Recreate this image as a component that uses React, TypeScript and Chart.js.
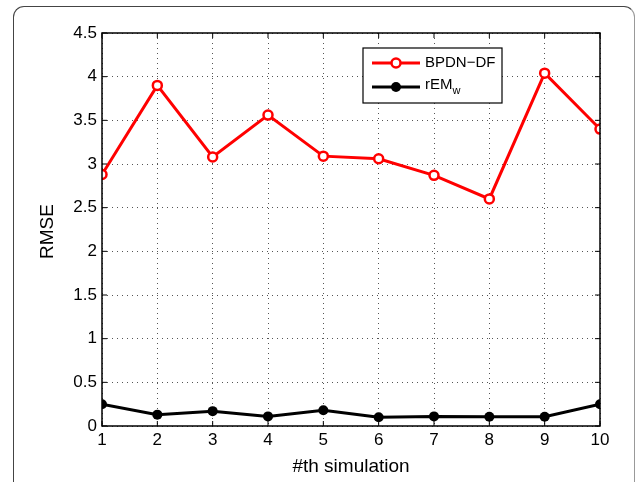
import React, { useEffect, useRef } from "react";
import { Chart, registerables } from "chart.js";

Chart.register(...registerables);

const simulations = [1, 2, 3, 4, 5, 6, 7, 8, 9, 10];
const bpdnDF = [2.88, 3.9, 3.08, 3.56, 3.09, 3.06, 2.87, 2.6, 4.04, 3.4];
const remW = [0.25, 0.13, 0.17, 0.11, 0.18, 0.1, 0.11, 0.105, 0.105, 0.25];
const yTicks = [0, 0.5, 1, 1.5, 2, 2.5, 3, 3.5, 4, 4.5];

const FONT = "'Liberation Sans', Arial, Helvetica, sans-serif";

const decorPlugin = {
  id: "decor",
  afterDraw(chart: any) {
    const ctx = chart.ctx as CanvasRenderingContext2D;
    const { left, right, top, bottom } = chart.chartArea;
    const xs = chart.scales.x;
    const ys = chart.scales.y;
    ctx.save();
    // box
    ctx.strokeStyle = "#000";
    ctx.lineWidth = 1.5;
    ctx.setLineDash([]);
    ctx.strokeRect(left, top, right - left, bottom - top);
    // inward ticks
    ctx.lineWidth = 1;
    const tl = 5;
    ctx.beginPath();
    simulations.forEach((v) => {
      const px = xs.getPixelForValue(v);
      ctx.moveTo(px, bottom);
      ctx.lineTo(px, bottom - tl);
      ctx.moveTo(px, top);
      ctx.lineTo(px, top + tl);
    });
    yTicks.forEach((v) => {
      const py = ys.getPixelForValue(v);
      ctx.moveTo(left, py);
      ctx.lineTo(left + tl, py);
      ctx.moveTo(right, py);
      ctx.lineTo(right - tl, py);
    });
    ctx.stroke();

    // axis titles
    ctx.fillStyle = "#000";
    ctx.font = `19px ${FONT}`;
    ctx.textAlign = "center";
    ctx.textBaseline = "middle";
    ctx.fillText("#th simulation", (left + right) / 2, 467);
    ctx.save();
    ctx.translate(48, (top + bottom) / 2 + 2);
    ctx.rotate(-Math.PI / 2);
    ctx.fillText("RMSE", 0, 0);
    ctx.restore();

    // legend
    const bx = 363, by = 48, bw = 139, bh = 55;
    ctx.fillStyle = "#fff";
    ctx.fillRect(bx, by, bw, bh);
    ctx.strokeStyle = "#000";
    ctx.lineWidth = 1.2;
    ctx.strokeRect(bx, by, bw, bh);
    const rows = [
      { y: 63, color: "#ff0000", open: true },
      { y: 87, color: "#000000", open: false },
    ];
    rows.forEach((r) => {
      ctx.strokeStyle = r.color;
      ctx.lineWidth = 3;
      ctx.beginPath();
      ctx.moveTo(372, r.y);
      ctx.lineTo(420, r.y);
      ctx.stroke();
      ctx.beginPath();
      ctx.arc(396, r.y, r.open ? 4.5 : 5, 0, Math.PI * 2);
      if (r.open) {
        ctx.fillStyle = "#fff";
        ctx.fill();
        ctx.lineWidth = 2.5;
        ctx.stroke();
      } else {
        ctx.fillStyle = r.color;
        ctx.fill();
      }
    });
    ctx.fillStyle = "#000";
    ctx.textAlign = "left";
    ctx.textBaseline = "middle";
    ctx.font = `15px ${FONT}`;
    ctx.fillText("BPDN\u2212DF", 425, 63);
    ctx.fillText("rEM", 425, 85);
    const w = ctx.measureText("rEM").width;
    ctx.font = `11px ${FONT}`;
    ctx.fillText("w", 425 + w, 91);
    ctx.restore();
  },
};

export default function App() {
  const ref = useRef<HTMLCanvasElement | null>(null);
  useEffect(() => {
    if (!ref.current) return;
    const chart = new Chart(ref.current, {
      type: "line",
      data: {
        datasets: [
          {
            label: "BPDN-DF",
            data: simulations.map((x, i) => ({ x, y: bpdnDF[i] })),
            borderColor: "#ff0000",
            backgroundColor: "#ffffff",
            borderWidth: 3,
            pointRadius: 4.5,
            pointBorderWidth: 2.5,
            pointBackgroundColor: "#ffffff",
            pointBorderColor: "#ff0000",
            tension: 0,
          },
          {
            label: "rEMw",
            data: simulations.map((x, i) => ({ x, y: remW[i] })),
            borderColor: "#000000",
            backgroundColor: "#000000",
            borderWidth: 3,
            pointRadius: 5,
            pointBorderWidth: 0,
            pointBackgroundColor: "#000000",
            tension: 0,
          },
        ],
      },
      options: {
        animation: false,
        responsive: false,
        maintainAspectRatio: false,
        layout: { padding: { top: 33, right: 37, left: 0, bottom: 0 } },
        plugins: { legend: { display: false }, tooltip: { enabled: false } },
        scales: {
          x: {
            type: "linear",
            min: 1,
            max: 10,
            afterFit: (s: any) => {
              s.height = 482 - 426 - 0;
            },
            afterBuildTicks: (s: any) => {
              s.ticks = simulations.map((v) => ({ value: v }));
            },
            ticks: {
              color: "#000",
              font: { family: FONT, size: 17 },
              padding: 4,
              maxRotation: 0,
            },
            grid: { color: "#555", lineWidth: 1, drawTicks: false },
            border: { display: false, dash: [1, 4] },
          },
          y: {
            type: "linear",
            min: 0,
            max: 4.5,
            afterFit: (s: any) => {
              s.width = 102;
            },
            afterBuildTicks: (s: any) => {
              s.ticks = yTicks.map((v) => ({ value: v }));
            },
            ticks: {
              color: "#000",
              font: { family: FONT, size: 17 },
              padding: 5,
              callback: (v: any) => String(v),
            },
            grid: { color: "#555", lineWidth: 1, drawTicks: false },
            border: { display: false, dash: [1, 4] },
          },
        },
      },
      plugins: [decorPlugin],
    });
    return () => chart.destroy();
  }, []);
  return (
    <div
      style={{
        position: "absolute",
        left: 0,
        top: 0,
        width: 637,
        height: 482,
        overflow: "hidden",
        background: "#fff",
      }}
    >
      <div
        style={{
          position: "absolute",
          left: 13,
          top: 6,
          width: 622,
          height: 520,
          border: "1px solid #444",
          borderRightColor: "#999",
          borderRadius: 11,
          boxSizing: "border-box",
        }}
      />
      <canvas
        ref={ref}
        width={637}
        height={482}
        style={{ position: "absolute", left: 0, top: 0, width: 637, height: 482 }}
      />
    </div>
  );
}
